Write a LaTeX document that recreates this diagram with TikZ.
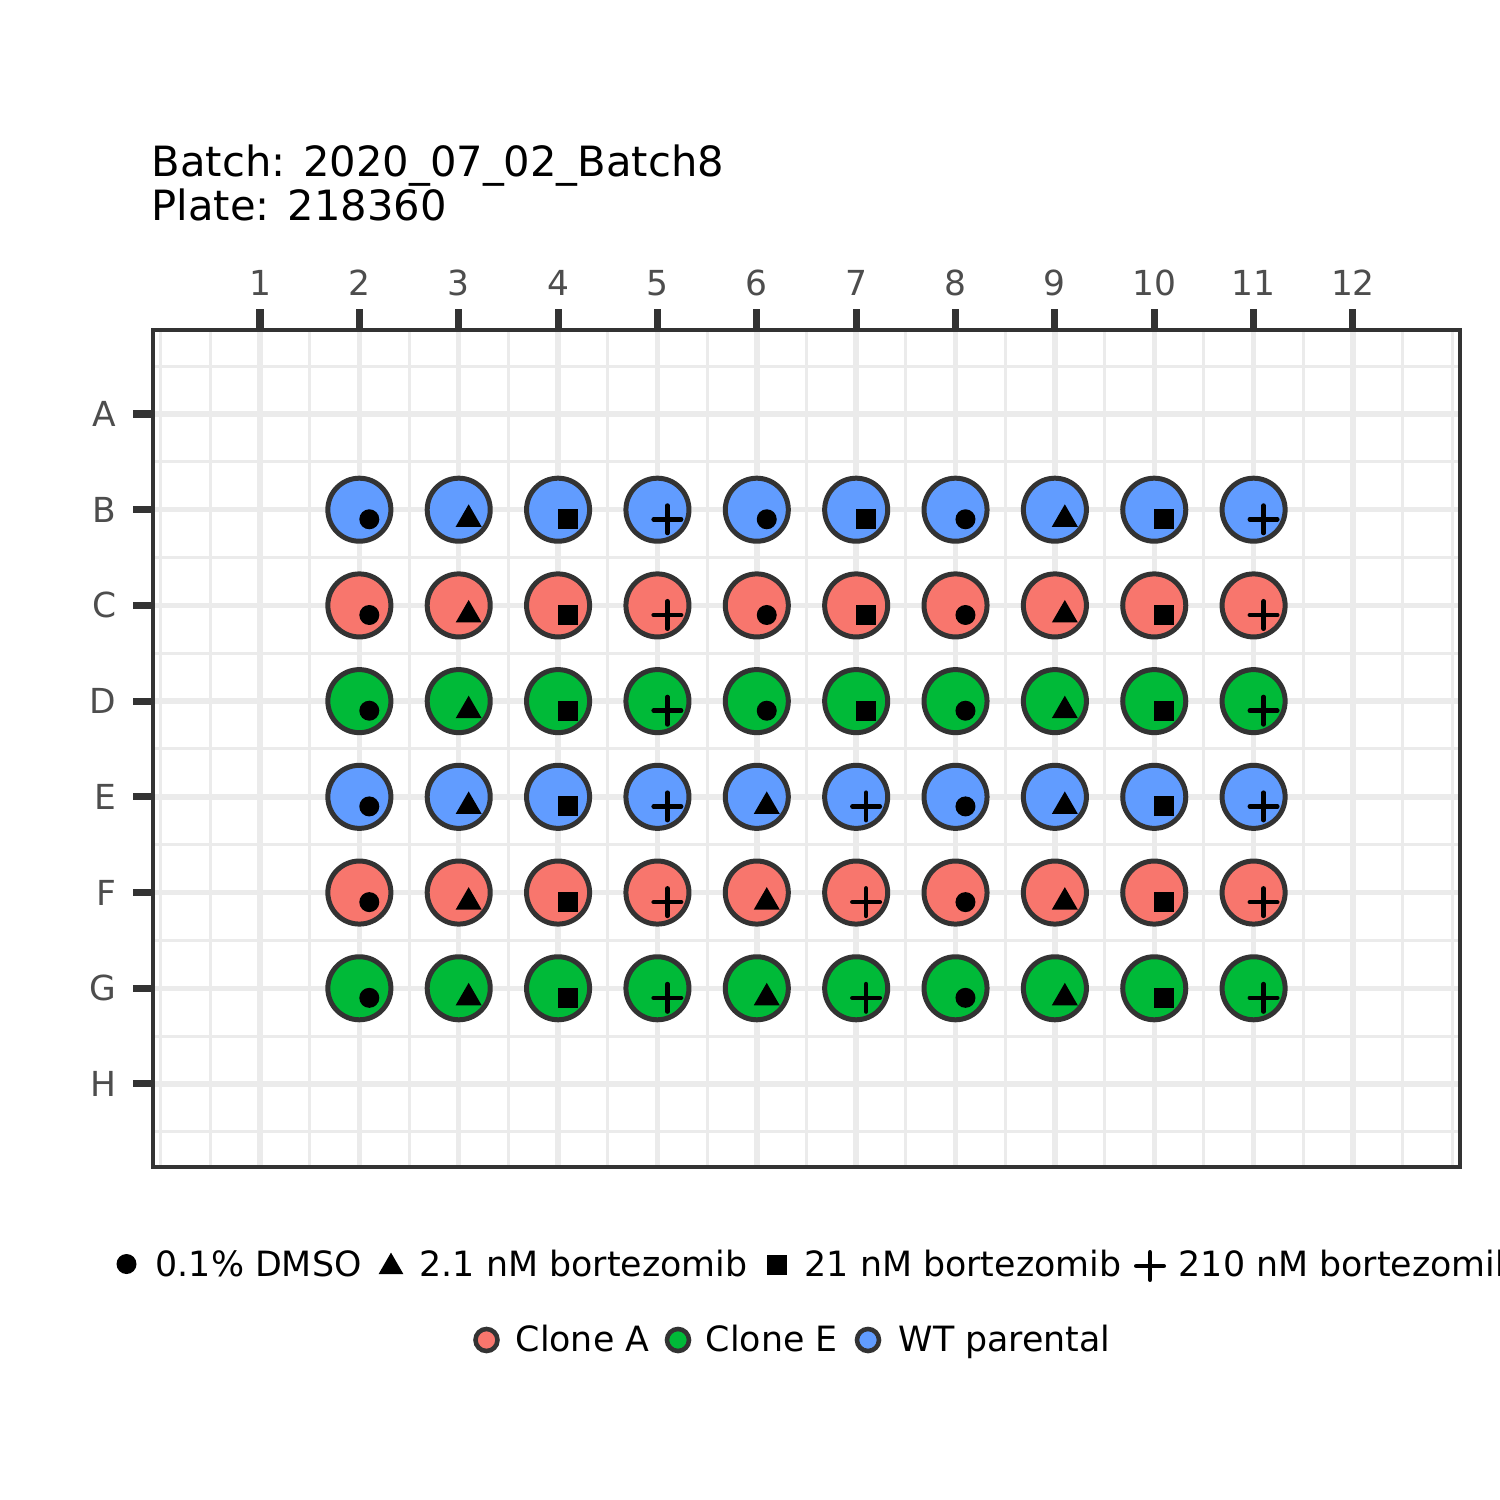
\documentclass[tikz,border=0pt]{standalone}
\usepackage{fontspec}
\setmainfont{DejaVu Sans}
\usetikzlibrary{calc}
\definecolor{cloneA}{HTML}{F8766D}
\definecolor{cloneE}{HTML}{00BA38}
\definecolor{wtpar}{HTML}{619CFF}
\definecolor{cgrid}{HTML}{EBEBEB}
\definecolor{cdark}{HTML}{333333}
\definecolor{caxis}{HTML}{4D4D4D}

\begin{document}
\begin{tikzpicture}[
    x=0.01cm, y=-0.01cm,
    gridmajor/.style={draw=cgrid, line width=1.56pt},
    gridminor/.style={draw=cgrid, line width=0.85pt},
    tickmark/.style={draw=cdark, line width=2pt},
    ticklabel/.style={font=\fontsize{9.8}{11.8}\selectfont, text=caxis, inner sep=0pt},
    titletext/.style={font=\fontsize{11.85}{14}\selectfont, inner sep=0pt, anchor=base west},
    legtext/.style={font=\fontsize{9.9}{11.9}\selectfont, inner sep=0pt, anchor=base west},
    well/.style={
        circle, draw=cdark, line width=1.42pt, minimum size=0.63cm, inner sep=0pt
    },
    legwell/.style={well, line width=1.3pt, minimum size=0.22cm},
    % treatment marks, drawn in the picture's units (y grows downwards)
    mkd/.pic={\fill (0,0) circle [radius=10];},
    mkt/.pic={\fill (0,-15) -- (13,7.5) -- (-13,7.5) -- cycle;},
    mks/.pic={\fill (-10,-10) rectangle (10,10);},
    mkp/.pic={
        \draw[line width=1.28pt, line cap=round]
            (-13.75,0) -- (13.75,0) (0,-13.75) -- (0,13.75);
    },
]
\useasboundingbox (0,0) rectangle (1500,1500);
\clip (0,0) rectangle (1500,1500);

% =====================================================================
% Plate panel: columns 1..12 every 99.36, rows A..H every 95.71
% (column 1 at x=260, row A at y=414; y grows downwards here)
% =====================================================================

% --- Grid: minor lines first, then major ----------------------------
\foreach \c in {0,0.5,1.5,...,12.5,13}
    \draw[gridminor] ({260+(\c-1)*99.36},330) -- ({260+(\c-1)*99.36},1167);
\foreach \r in {-0.5,0.5,...,7.5}
    \draw[gridminor] (153,{414+\r*95.71}) -- (1460,{414+\r*95.71});
\foreach \c in {1,...,12}
    \draw[gridmajor] ({260+(\c-1)*99.36},330) -- ({260+(\c-1)*99.36},1167);
\foreach \r in {0,...,7}
    \draw[gridmajor] (153,{414+\r*95.71}) -- (1460,{414+\r*95.71});

% --- Panel border ---------------------------------------------------
\draw[cdark, line width=0.94pt] (153,330) rectangle (1460,1167);

% --- Wells (rows B..G, columns 2..11) with treatment marks ----------
% d = DMSO, t = 2.1 nM, s = 21 nM, p = 210 nM
\foreach \r/\fc/\marks in {
    1/wtpar/{d,t,s,p,d,s,d,t,s,p},
    2/cloneA/{d,t,s,p,d,s,d,t,s,p},
    3/cloneE/{d,t,s,p,d,s,d,t,s,p},
    4/wtpar/{d,t,s,p,t,p,d,t,s,p},
    5/cloneA/{d,t,s,p,t,p,d,t,s,p},
    6/cloneE/{d,t,s,p,t,p,d,t,s,p}}
    \foreach \m [count=\c from 2] in \marks {
        \node[well, fill=\fc] (w\r-\c) at ({260+(\c-1)*99.36},{414+\r*95.71}) {};
        \pic at ($(w\r-\c)+(9.94,9.57)$) {mk\m};
    }

% --- Axes: column numbers on top, row letters on the left -----------
\foreach \c in {1,...,12} {
    \draw[tickmark] ({260+(\c-1)*99.36},309) -- ({260+(\c-1)*99.36},330);
    \node[ticklabel, anchor=base] (xl\c) at ({260+(\c-1)*99.36},295) {\c};
}
\foreach \l [count=\r from 0] in {A,B,C,D,E,F,G,H} {
    \draw[tickmark] (133,{414+\r*95.71}) -- (153,{414+\r*95.71});
    \node[ticklabel, anchor=base east] (yl\l) at (117,{414+\r*95.71+12.5}) {\l};
}

% --- Title ----------------------------------------------------------
\node[titletext] (batch) at (151,176) {Batch: 2020\_07\_02\_Batch8};
\node[titletext] (plate) at (151,220) {Plate: 218360};

% --- Legend: treatment (shape) --------------------------------------
\pic at (126.5,1264) {mkd};
\node[legtext] (tdmso) at (155,1276) {0.1\% DMSO};
\pic[scale=0.96] at (391,1267) {mkt};
\node[legtext] (tlow) at (419,1276) {2.1 nM bortezomib};
\pic at (777,1264.5) {mks};
\node[legtext] (tmid) at (804,1276) {21 nM bortezomib};
\pic at (1150,1266) {mkp};
\node[legtext] (thigh) at (1178,1276) {210 nM bortezomib};

% --- Legend: cell line (fill) ---------------------------------------
\node[legwell, fill=cloneA] (lcloneA) at (486.5,1340) {};
\node[legtext] (tcloneA) at (515,1351) {Clone A};
\node[legwell, fill=cloneE] (lcloneE) at (678,1340) {};
\node[legtext] (tcloneE) at (705,1351) {Clone E};
\node[legwell, fill=wtpar] (lwt) at (868,1340) {};
\node[legtext] (twt) at (898,1351) {WT parental};

\end{tikzpicture}
\end{document}
